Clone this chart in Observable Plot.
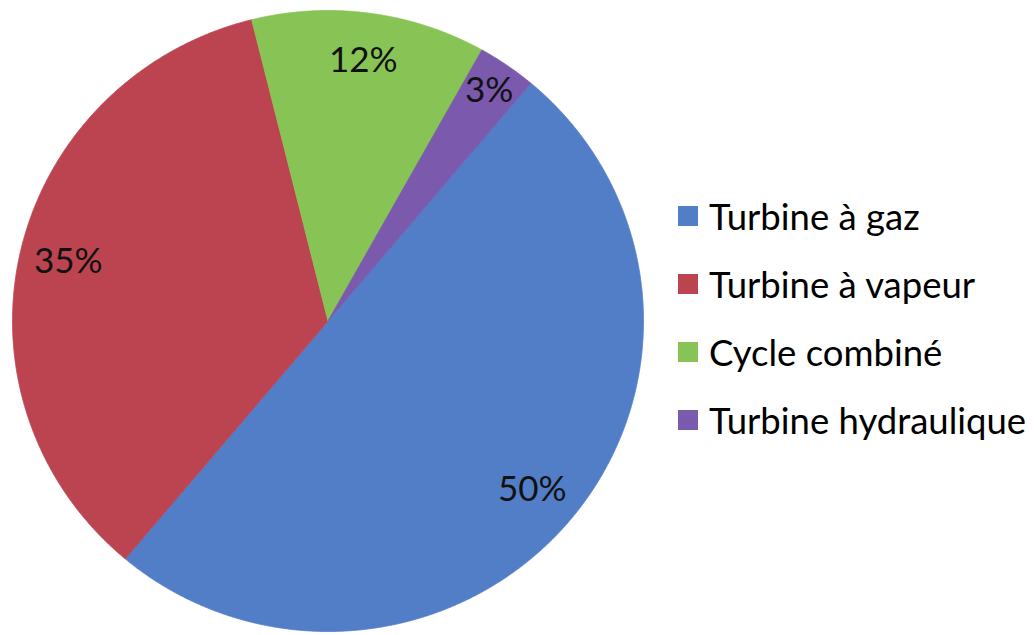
<!DOCTYPE html>
<html>
<head>
<meta charset="utf-8">
<script src="https://cdn.jsdelivr.net/npm/d3@7"></script>
<script src="https://cdn.jsdelivr.net/npm/@observablehq/plot@0.6"></script>
<style>
  body { margin: 0; background: #fff; font-family: Lato, "Noto Sans", sans-serif; }
  #chart { position: relative; width: 1034px; height: 635px; }
  #legend { position: absolute; left: 678px; top: 0; }
  .item { position: absolute; left: 0; height: 40px; margin-top: -21px; display: flex; align-items: center; white-space: nowrap; font-size: 36.5px; line-height: 1; color: #000; }
  .swatch { width: 20px; height: 20px; margin-right: 11px; flex: none; }
</style>
</head>
<body>
<div id="chart"></div>
<script>
// Répartition des types de centrales (en %)
const categories = ["Turbine à gaz", "Turbine à vapeur", "Cycle combiné", "Turbine hydraulique"];
const shares = [50, 35, 12, 3];
const colors = ["#517EC7", "#BC4450", "#88C455", "#7B59AD"];

// First slice starts at this angle (degrees clockwise from 12 o'clock)
const firstSliceAngle = 40;

const total = d3.sum(shares);
let running = 0;
const slices = categories.map((category, i) => {
  const a0 = firstSliceAngle + (running / total) * 360;
  running += shares[i];
  const a1 = firstSliceAngle + (running / total) * 360;
  return {category, share: shares[i], a0, a1};
});

// Each slice as a closed polygon: centre, arc samples, centre
const rad = (deg) => (deg * Math.PI) / 180;
const outline = slices.flatMap((s) => {
  const n = Math.max(2, Math.ceil((s.a1 - s.a0) / 0.25));
  const pts = [{category: s.category, x: 0, y: 0}];
  for (let k = 0; k <= n; ++k) {
    const a = rad(s.a0 + ((s.a1 - s.a0) * k) / n);
    pts.push({category: s.category, x: Math.sin(a), y: Math.cos(a)});
  }
  pts.push({category: s.category, x: 0, y: 0});
  return pts;
});

// Percentage labels near the outer edge, thin slices pushed a bit further out
const labels = slices.map((s) => {
  const a = rad((s.a0 + s.a1) / 2);
  const r = s.share < 5 ? 0.9 : 0.845;
  return {share: s.share, x: r * Math.sin(a), y: r * Math.cos(a)};
});

const chart = Plot.plot({
  width: 1034,
  height: 635,
  marginLeft: 12,
  marginRight: 391,
  marginTop: 10,
  marginBottom: 4,
  x: {domain: [-1, 1], axis: null},
  y: {domain: [-1, 1], axis: null},
  color: {domain: categories, range: colors},
  style: {fontFamily: "Lato, 'Noto Sans', sans-serif", background: "white", overflow: "visible"},
  marks: [
    Plot.line(outline, {x: "x", y: "y", z: "category", fill: "category", stroke: "category", strokeWidth: 0.8}),
    Plot.text(labels, {x: "x", y: "y", text: (d) => `${d.share}%`, fontSize: 35, fill: "#111", lineAnchor: "middle"})
  ]
});

const host = document.getElementById("chart");
host.appendChild(chart);

// Legend to the right of the pie
const legend = document.createElement("div");
legend.id = "legend";
categories.forEach((c, i) => {
  const item = document.createElement("div");
  item.className = "item";
  item.style.top = `${217 + i * 68}px`;
  const sw = document.createElement("span");
  sw.className = "swatch";
  sw.style.background = colors[i];
  const label = document.createElement("span");
  label.textContent = c;
  item.append(sw, label);
  legend.appendChild(item);
});
host.appendChild(legend);
</script>
</body>
</html>
